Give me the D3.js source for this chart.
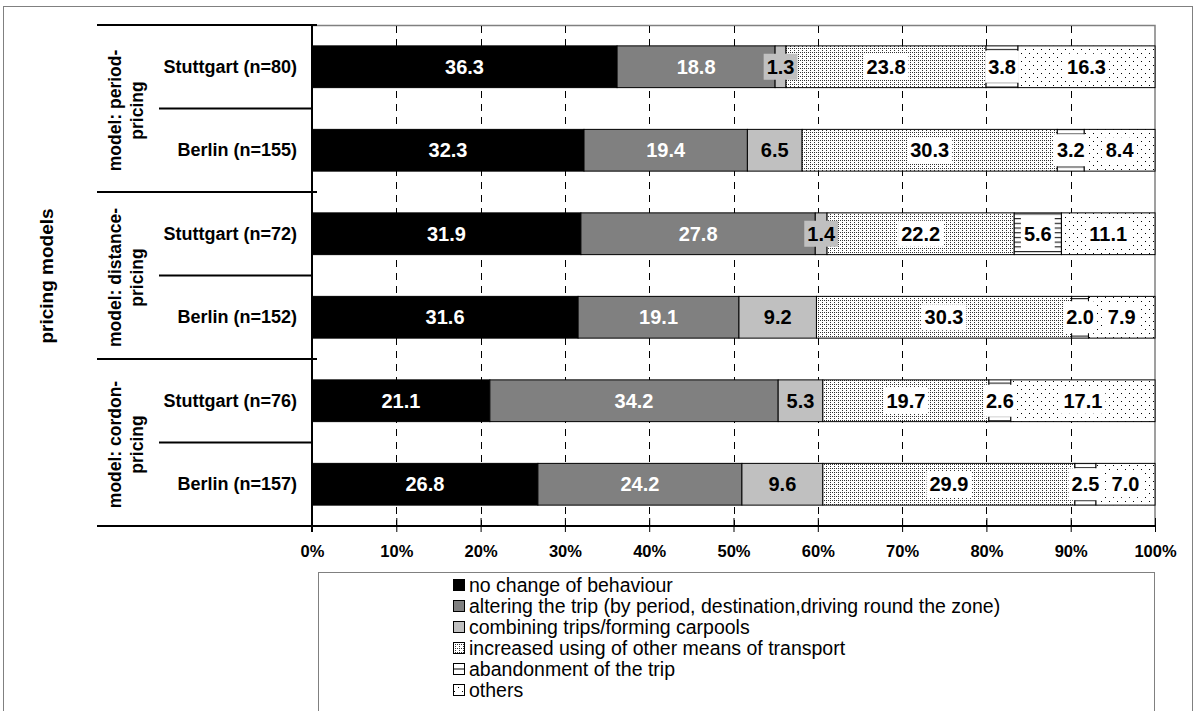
<!DOCTYPE html>
<html>
<head>
<meta charset="utf-8">
<script src="https://cdn.jsdelivr.net/npm/d3@7"></script>
<style>
  body { margin: 0; background: #fff; }
  svg { font-family: Arial, "Liberation Sans", sans-serif; }
</style>
</head>
<body>
<svg id="chart" width="1196" height="711"></svg>
<script>
// rows, top to bottom
const rowLabels = ["Stuttgart (n=80)", "Berlin (n=155)", "Stuttgart (n=72)", "Berlin (n=152)", "Stuttgart (n=76)", "Berlin (n=157)"];
const groupLabels = [["model: period-", "pricing"], ["model: distance-", "pricing"], ["model: cordon-", "pricing"]];
const seriesNames = [
  "no change of behaviour",
  "altering the trip (by period, destination,driving round the zone)",
  "combining trips/forming carpools",
  "increased using of other means of transport",
  "abandonment of the trip",
  "others"
];
const noChange    = [36.3, 32.3, 31.9, 31.6, 21.1, 26.8];
const altering    = [18.8, 19.4, 27.8, 19.1, 34.2, 24.2];
const combining   = [1.3, 6.5, 1.4, 9.2, 5.3, 9.6];
const otherMeans  = [23.8, 30.3, 22.2, 30.3, 19.7, 29.9];
const abandonment = [3.8, 3.2, 5.6, 2.0, 2.6, 2.5];
const others      = [16.3, 8.4, 11.1, 7.9, 17.1, 7.0];
const tickValues  = [0, 0.1, 0.2, 0.3, 0.4, 0.5, 0.6, 0.7, 0.8, 0.9, 1];

const seriesValues = [noChange, altering, combining, otherMeans, abandonment, others];
const keys = ["s0", "s1", "s2", "s3", "s4", "s5"];
const table = rowLabels.map((r, i) => {
  const o = { row: i };
  keys.forEach((k, j) => o[k] = seriesValues[j][i]);
  return o;
});

const svg = d3.select("#chart");
const defs = svg.append("defs");

// fill patterns
const pDense = defs.append("pattern").attr("id", "pDense").attr("patternUnits", "userSpaceOnUse")
  .attr("width", 4).attr("height", 4);
pDense.append("rect").attr("width", 4).attr("height", 4).attr("fill", "#fff");
[[0, 0], [2, 2], [2, 0]].forEach(p => pDense.append("rect").attr("x", p[0]).attr("y", p[1])
  .attr("width", 1).attr("height", 1).attr("fill", "#333"));

const pSparse = defs.append("pattern").attr("id", "pSparse").attr("patternUnits", "userSpaceOnUse")
  .attr("width", 8).attr("height", 8);
pSparse.append("rect").attr("width", 8).attr("height", 8).attr("fill", "#fff");
pSparse.append("rect").attr("x", 1).attr("y", 1).attr("width", 1).attr("height", 1).attr("fill", "#000");
pSparse.append("rect").attr("x", 5).attr("y", 5).attr("width", 1).attr("height", 1).attr("fill", "#000");

const pHoriz = defs.append("pattern").attr("id", "pHoriz").attr("patternUnits", "userSpaceOnUse")
  .attr("width", 4).attr("height", 4.7);
pHoriz.append("rect").attr("width", 4).attr("height", 4.7).attr("fill", "#fff");
pHoriz.append("rect").attr("x", 0).attr("y", 2).attr("width", 4).attr("height", 1).attr("fill", "#000");

const fills = ["#000000", "#808080", "#c0c0c0", "url(#pDense)", "url(#pHoriz)", "url(#pSparse)"];
const legendFills = ["#000000", "#808080", "#c0c0c0", "url(#pDense)", "#ffffff", "url(#pSparse)"];
const labelBg = ["#000000", "#808080", "#c0c0c0", "#ffffff", "#ffffff", "#ffffff"];
const labelColor = ["#fff", "#fff", "#000", "#000", "#000", "#000"];

const x = d3.scaleLinear().domain([0, 1]).range([312, 1155]);
const y = d3.scaleBand().domain(d3.range(rowLabels.length)).range([25, 526])
  .paddingInner(0.5).paddingOuter(0.25);
const step = y.step();

// outer frame
svg.append("rect").attr("x", 3.5).attr("y", 6.5).attr("width", 1189).attr("height", 720)
  .attr("fill", "none").attr("stroke", "#808080").attr("stroke-width", 1);

// plot area border (top, right)
svg.append("path").attr("d", `M${x(0)},25.5H${x(1)}V526`).attr("fill", "none")
  .attr("stroke", "#808080").attr("stroke-width", 1.5);

// dashed gridlines
svg.append("g").selectAll("line").data(tickValues.slice(1, -1)).join("line")
  .attr("x1", d => Math.round(x(d)) + 0.5).attr("x2", d => Math.round(x(d)) + 0.5)
  .attr("y1", 26).attr("y2", 526)
  .attr("stroke", "#000").attr("stroke-width", 1).attr("stroke-dasharray", "7,6");

// stacked bars
const stack = d3.stack().keys(keys).offset(d3.stackOffsetExpand);
const layers = stack(table);

const gBars = svg.append("g");
layers.forEach((layer, si) => {
  gBars.append("g").selectAll("rect").data(layer).join("rect")
    .attr("x", d => x(d[0]))
    .attr("width", d => x(d[1]) - x(d[0]))
    .attr("y", (d, i) => y(i))
    .attr("height", y.bandwidth())
    .attr("fill", fills[si])
    .attr("stroke", "#000").attr("stroke-width", 1);
});

// data labels
const gLab = svg.append("g").attr("font-weight", "bold").attr("font-size", 20);
layers.forEach((layer, si) => {
  layer.forEach((d, i) => {
    const cx = (x(d[0]) + x(d[1])) / 2;
    const cy = y(i) + y.bandwidth() / 2;
    const val = seriesValues[si][i].toFixed(1);
    const g = gLab.append("g");
    const rect = g.append("rect");
    const t = g.append("text").attr("x", cx).attr("y", cy + 7).attr("text-anchor", "middle")
      .attr("fill", labelColor[si]).text(val);
    const w = t.node().getComputedTextLength();
    const h = si === 4 ? 32 : 26;
    rect.attr("x", cx - w / 2 - 3).attr("width", w + 6)
      .attr("y", cy - h / 2).attr("height", h).attr("fill", labelBg[si]);
  });
});

// axes lines
svg.append("line").attr("x1", x(0)).attr("x2", x(0)).attr("y1", 25).attr("y2", 532)
  .attr("stroke", "#000").attr("stroke-width", 2);
svg.append("line").attr("x1", 97).attr("x2", x(1)).attr("y1", 526).attr("y2", 526)
  .attr("stroke", "#000").attr("stroke-width", 2);

// x axis ticks and labels
const xAxis = d3.axisBottom(x).tickValues(tickValues).tickFormat(d3.format(".0%"))
  .tickSize(6).tickPadding(13);
const gx = svg.append("g").attr("transform", "translate(0,526)").call(xAxis);
gx.select(".domain").remove();
gx.selectAll(".tick line").attr("stroke", "#000").attr("y1", -8);
gx.selectAll(".tick text").attr("font-family", "Arial, 'Liberation Sans', sans-serif")
  .attr("font-size", 16.5).attr("font-weight", "bold").attr("fill", "#000");

// category separators
const seps = d3.range(0, rowLabels.length + 1);
svg.append("g").selectAll("line").data(seps).join("line")
  .attr("x1", d => d % 2 === 0 ? 97 : 159)
  .attr("x2", d => d % 2 === 0 ? 317 : x(0))
  .attr("y1", d => 25 + d * step).attr("y2", d => 25 + d * step)
  .attr("stroke", "#000").attr("stroke-width", 2);

// row labels
svg.append("g").selectAll("text").data(rowLabels).join("text")
  .attr("x", 297).attr("y", (d, i) => y(i) + y.bandwidth() / 2 + 6)
  .attr("text-anchor", "end").attr("font-size", 18).attr("font-weight", "bold")
  .text(d => d);

// group labels (rotated)
groupLabels.forEach((lines, gi) => {
  const cy = 25 + (gi * 2 + 1) * step;
  const t = svg.append("text")
    .attr("transform", `translate(121,${cy + 2}) rotate(-90)`)
    .attr("text-anchor", "middle").attr("font-size", 17.5).attr("font-weight", "bold");
  lines.forEach((ln, li) => {
    t.append("tspan").attr("x", 0).attr("y", li * 22).text(ln);
  });
});

// axis title
svg.append("text").attr("transform", "translate(53,276) rotate(-90)")
  .attr("text-anchor", "middle").attr("font-size", 19).attr("font-weight", "bold")
  .text("pricing models");

// legend
svg.append("rect").attr("x", 318.5).attr("y", 572.5).attr("width", 836).attr("height", 160)
  .attr("fill", "#fff").attr("stroke", "#808080");
const leg = svg.append("g").attr("transform", "translate(453,585)");
seriesNames.forEach((name, i) => {
  const row = leg.append("g").attr("transform", `translate(0,${i * 21})`);
  row.append("rect").attr("x", 0.5).attr("y", -5.5).attr("width", 11).attr("height", 11)
    .attr("fill", legendFills[i]).attr("stroke", "#000");
  if (i === 4) {
    row.append("line").attr("x1", 0.5).attr("x2", 11.5).attr("y1", 0).attr("y2", 0).attr("stroke", "#000");
  }
  row.append("text").attr("x", 16).attr("y", 7).attr("font-size", 19.5).text(name);
});
</script>
</body>
</html>
